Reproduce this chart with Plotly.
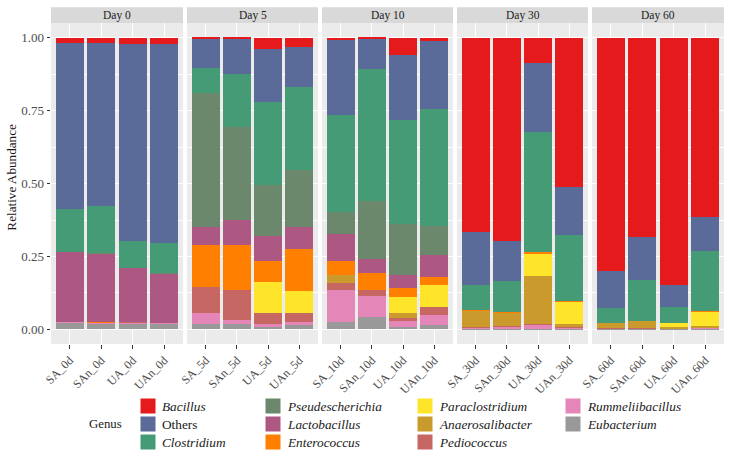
import plotly.graph_objects as go

W, H = 729, 458

days = ["Day 0", "Day 5", "Day 10", "Day 30", "Day 60"]
samples = [
    ["SA_0d", "SAn_0d", "UA_0d", "UAn_0d"],
    ["SA_5d", "SAn_5d", "UA_5d", "UAn_5d"],
    ["SA_10d", "SAn_10d", "UA_10d", "UAn_10d"],
    ["SA_30d", "SAn_30d", "UA_30d", "UAn_30d"],
    ["SA_60d", "SAn_60d", "UA_60d", "UAn_60d"],
]

# legend order (top of stack first)
genera = ["Bacillus", "Others", "Clostridium", "Pseudescherichia", "Lactobacillus",
          "Enterococcus", "Paraclostridium", "Anaerosalibacter", "Pediococcus",
          "Rummeliibacillus", "Eubacterium"]
colors = ["#E41A1C", "#5A6A99", "#449B76", "#6B886D", "#AD5882", "#FF7F00",
          "#FFE529", "#CA9A2C", "#C66764", "#E486B7", "#999999"]

# relative abundance per sample, 20 samples in order Day0..Day60 (SA, SAn, UA, UAn)
Bacillus = [0.017, 0.017, 0.020, 0.020,
            0.003, 0.003, 0.038, 0.030,
            0.006, 0.002, 0.057, 0.010,
            0.665, 0.697, 0.086, 0.511,
            0.800, 0.683, 0.846, 0.615]
Others = [0.569, 0.561, 0.675, 0.685,
          0.101, 0.120, 0.181, 0.140,
          0.257, 0.104, 0.226, 0.233,
          0.184, 0.136, 0.236, 0.164,
          0.125, 0.147, 0.078, 0.116]
Clostridium = [0.147, 0.160, 0.093, 0.103,
               0.086, 0.182, 0.284, 0.284,
               0.334, 0.454, 0.355, 0.403,
               0.083, 0.107, 0.413, 0.228,
               0.053, 0.142, 0.053, 0.207]
Pseudescherichia = [0.001, 0.001, 0.001, 0.001,
                    0.457, 0.319, 0.176, 0.196,
                    0.076, 0.198, 0.176, 0.100,
                    0.000, 0.000, 0.000, 0.000,
                    0.000, 0.000, 0.000, 0.000]
Lactobacillus = [0.239, 0.237, 0.187, 0.168,
                 0.064, 0.087, 0.086, 0.074,
                 0.094, 0.048, 0.044, 0.075,
                 0.000, 0.000, 0.000, 0.000,
                 0.000, 0.000, 0.000, 0.000]
Enterococcus = [0.001, 0.001, 0.000, 0.000,
                0.145, 0.154, 0.073, 0.144,
                0.048, 0.059, 0.032, 0.028,
                0.003, 0.003, 0.005, 0.003,
                0.000, 0.000, 0.000, 0.001]
Paraclostridium = [0.000, 0.000, 0.000, 0.000,
                   0.000, 0.000, 0.104, 0.076,
                   0.000, 0.000, 0.054, 0.075,
                   0.000, 0.000, 0.076, 0.074,
                   0.000, 0.000, 0.013, 0.050]
Anaerosalibacter = [0.000, 0.000, 0.000, 0.000,
                    0.000, 0.000, 0.000, 0.000,
                    0.026, 0.000, 0.017, 0.000,
                    0.056, 0.045, 0.167, 0.011,
                    0.018, 0.024, 0.007, 0.005]
Pediococcus = [0.001, 0.001, 0.001, 0.001,
               0.086, 0.104, 0.041, 0.032,
               0.023, 0.019, 0.011, 0.025,
               0.002, 0.002, 0.002, 0.005,
               0.001, 0.001, 0.000, 0.002]
Rummeliibacillus = [0.003, 0.002, 0.004, 0.004,
                    0.039, 0.012, 0.007, 0.009,
                    0.109, 0.073, 0.019, 0.037,
                    0.005, 0.008, 0.013, 0.002,
                    0.002, 0.002, 0.001, 0.003]
Eubacterium = [0.022, 0.020, 0.019, 0.018,
               0.019, 0.019, 0.010, 0.015,
               0.027, 0.043, 0.009, 0.014,
               0.002, 0.002, 0.002, 0.002,
               0.001, 0.001, 0.002, 0.001]

values = {"Bacillus": Bacillus, "Others": Others, "Clostridium": Clostridium,
          "Pseudescherichia": Pseudescherichia, "Lactobacillus": Lactobacillus,
          "Enterococcus": Enterococcus, "Paraclostridium": Paraclostridium,
          "Anaerosalibacter": Anaerosalibacter, "Pediococcus": Pediococcus,
          "Rummeliibacillus": Rummeliibacillus, "Eubacterium": Eubacterium}

y_ticks = [0.0, 0.25, 0.5, 0.75, 1.0]
y_ticklabels = ["0.00", "0.25", "0.50", "0.75", "1.00"]

FONT = "Liberation Serif"

def px_x(x):
    return x / W

def px_y(y):
    return 1 - y / H

panel_px = [(51, 183), (187, 318), (322, 453), (457, 588), (592, 724)]
panel_top, panel_bot = 23.3, 344.0
strip_top = 7.3

fig = go.Figure()
layout = dict(
    width=W, height=H, margin=dict(l=0, r=0, t=0, b=0, autoexpand=False),
    paper_bgcolor="white", plot_bgcolor="#EBEBEB",
    barmode="stack", bargap=0.1, showlegend=False,
    font=dict(family=FONT, color="#1A1A1A"),
)

shapes = []
annotations = []

# stack from bottom: reversed legend order
stack_order = list(reversed(genera))
for p, day in enumerate(days):
    xa = "x" if p == 0 else f"x{p+1}"
    ya = "y" if p == 0 else f"y{p+1}"
    for g in stack_order:
        ci = genera.index(g)
        fig.add_trace(go.Bar(
            x=samples[p], y=values[g][p*4:(p+1)*4], name=g,
            marker=dict(color=colors[ci], line=dict(width=0)),
            xaxis=xa, yaxis=ya, width=0.9,
            hovertemplate=g + ": %{y}<extra></extra>",
        ))
    x0, x1 = panel_px[p]
    key = "xaxis" if p == 0 else f"xaxis{p+1}"
    ykey = "yaxis" if p == 0 else f"yaxis{p+1}"
    layout[key] = dict(
        domain=[px_x(x0), px_x(x1)], anchor=ya, automargin=False,
        range=[-0.6, 3.6], showgrid=True, gridcolor="white", gridwidth=1.1,
        ticks="outside", ticklen=3.5, tickcolor="#333333", tickwidth=1,
        tickangle=-45, tickfont=dict(family=FONT, size=12, color="#4D4D4D"),
        showline=False, zeroline=False, fixedrange=True,
    )
    ydict = dict(
        domain=[px_y(panel_bot), px_y(panel_top)], anchor=xa, automargin=False,
        range=[-0.05, 1.05], tickvals=y_ticks, ticktext=y_ticklabels,
        showgrid=True, gridcolor="white", gridwidth=1.1,
        minor=dict(tickvals=[0.125, 0.375, 0.625, 0.875], showgrid=True,
                   gridcolor="white", gridwidth=0.5, ticks=""),
        zeroline=False, showline=False, fixedrange=True,
        tickfont=dict(family=FONT, size=13, color="#4D4D4D"),
    )
    if p == 0:
        ydict.update(ticks="outside", ticklen=3.5, tickcolor="#333333", tickwidth=1,
                     showticklabels=True)
    else:
        ydict.update(matches="y", showticklabels=False, ticks="")
    layout[ykey] = ydict
    # facet strip
    shapes.append(dict(type="rect", xref="paper", yref="paper",
                       x0=px_x(x0), x1=px_x(x1), y0=px_y(panel_top), y1=px_y(strip_top),
                       fillcolor="#D9D9D9", line=dict(width=0), layer="below"))
    annotations.append(dict(xref="paper", yref="paper", x=px_x((x0 + x1) / 2),
                            y=px_y((panel_top + strip_top) / 2), text=day, showarrow=False,
                            font=dict(family=FONT, size=11.5, color="#1A1A1A"),
                            xanchor="center", yanchor="middle"))

# y axis title
annotations.append(dict(xref="paper", yref="paper", x=px_x(12), y=px_y((panel_top + panel_bot) / 2 - 6),
                        text="Relative Abundance", textangle=-90, showarrow=False,
                        font=dict(family=FONT, size=13.2, color="#1A1A1A"),
                        xanchor="center", yanchor="middle"))

# legend (manual, 4 columns x 3 rows, column-major)
annotations.append(dict(xref="paper", yref="paper", x=px_x(124), y=px_y(423.5),
                        text="Genus", showarrow=False, xanchor="right", yanchor="middle",
                        font=dict(family=FONT, size=12.8, color="#1A1A1A")))
col_x = [140, 265, 417, 565]
row_y = [398, 416, 434]
for i, g in enumerate(genera):
    c, r = divmod(i, 3)
    kx, ky = col_x[c], row_y[r]
    shapes.append(dict(type="rect", xref="paper", yref="paper",
                       x0=px_x(kx), x1=px_x(kx + 16), y0=px_y(ky + 16), y1=px_y(ky),
                       fillcolor=colors[i], line=dict(color="white", width=1)))
    label = g if g == "Others" else f"<i>{g}</i>"
    annotations.append(dict(xref="paper", yref="paper", x=px_x(kx + 20), y=px_y(ky + 8.5),
                            text=label, showarrow=False, xanchor="left", yanchor="middle",
                            font=dict(family=FONT, size=13.3, color="#1A1A1A")))

layout["shapes"] = shapes
layout["annotations"] = annotations
fig.update_layout(**layout)
fig.write_html("out.html", config={"displayModeBar": False},
               post_script="document.body.style.margin='0';")
